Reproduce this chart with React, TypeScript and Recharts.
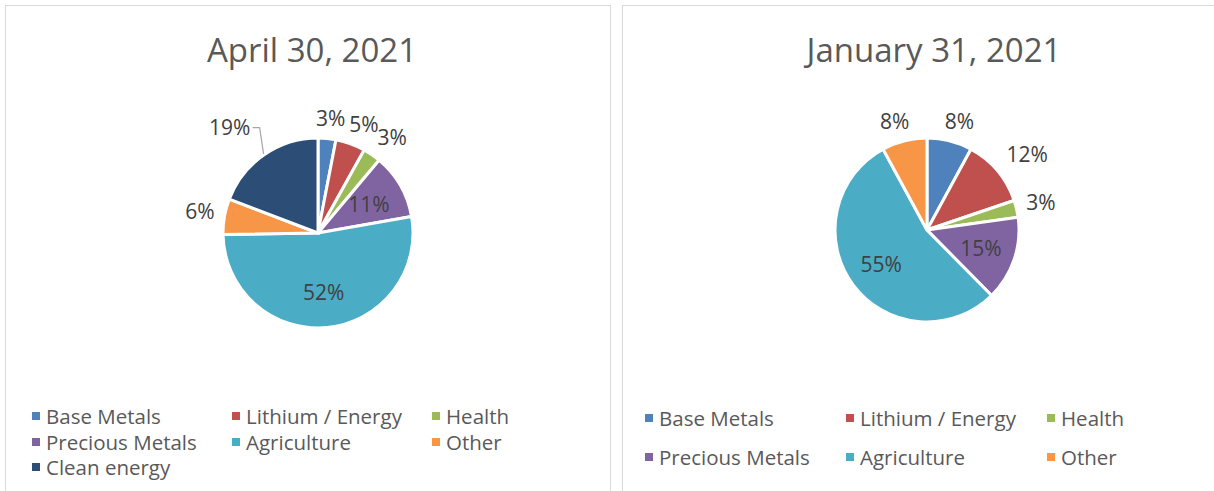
import { PieChart, Pie, Cell, Legend } from "recharts";

const CATEGORIES_APR = [
  "Base Metals", "Lithium / Energy", "Health", "Precious Metals", "Agriculture", "Other", "Clean energy",
];
const VALUES_APR = [3, 5, 3, 11, 52, 6, 19];

const CATEGORIES_JAN = [
  "Base Metals", "Lithium / Energy", "Health", "Precious Metals", "Agriculture", "Other",
];
const VALUES_JAN = [8, 12, 3, 15, 55, 8];

const COLORS: Record<string, string> = {
  "Base Metals": "#4F81BD",
  "Lithium / Energy": "#C0504D",
  Health: "#9BBB59",
  "Precious Metals": "#8064A2",
  Agriculture: "#4BACC6",
  Other: "#F79646",
  "Clean energy": "#2C4D75",
};

// which slices carry their label inside (Excel "best fit")
const INSIDE = ["Precious Metals", "Agriculture"];
const LEADER = ["Clean energy"];

const FONT = "'Open Sans', 'Noto Sans', sans-serif";
const RAD = Math.PI / 180;
const LABEL_SIZE = 21;

const clamp = (v: number) => Math.max(-1, Math.min(1, v));

function makeLabel(props: any) {
  const { cx, cy, midAngle, outerRadius, name, value } = props;
  const cos = Math.cos(-midAngle * RAD);
  const sin = Math.sin(-midAngle * RAD);
  const text = `${value}%`;
  const halfW = (text.length * 0.7 * LABEL_SIZE) / 2;
  const halfH = 10;
  const leader = LEADER.includes(name);
  let x: number;
  let y: number;
  if (INSIDE.includes(name)) {
    x = cx + outerRadius * 0.62 * cos;
    y = cy + outerRadius * 0.62 * sin;
  } else {
    // put the label box just off the rim, pushed away from the centre
    const r = outerRadius + 10 + (leader ? 12 : 0);
    x = cx + r * cos + halfW * clamp(2 * cos);
    y = cy + r * sin + halfH * clamp(2 * sin);
  }
  const side = cos < 0 ? 1 : -1;
  return (
    <g>
      {leader && (
        <polyline
          points={`${cx + (outerRadius + 1) * cos},${cy + (outerRadius + 1) * sin} ${x + side * (halfW + 8)},${y + 1} ${x + side * (halfW + 1)},${y + 1}`}
          fill="none" stroke="#A6A6A6" strokeWidth={1.2}
        />
      )}
      <text x={x} y={y} textAnchor="middle" dominantBaseline="central"
        fill="#404040" fontSize={LABEL_SIZE} fontFamily={FONT}>
        {text}
      </text>
    </g>
  );
}

function LegendGrid({ names, colStart, colGap, rowGap }: {
  names: string[]; colStart: number; colGap: number; rowGap: number;
}) {
  return (
    <div style={{ position: "relative", height: rowGap * Math.ceil(names.length / 3) }}>
      {names.map((n, i) => (
        <div key={n} style={{
          position: "absolute", left: colStart + (i % 3) * colGap, top: Math.floor(i / 3) * rowGap,
          display: "flex", alignItems: "center", fontFamily: FONT, fontSize: 20.5, color: "#595959",
          whiteSpace: "nowrap", lineHeight: "24px",
        }}>
          <span style={{ width: 8, height: 8, background: COLORS[n], marginRight: 6, display: "inline-block" }} />
          {n}
        </div>
      ))}
    </div>
  );
}

function Panel({ title, names, values, left, width, cx, cy, radius, legendTop, colStart, colGap, rowGap, titleShift }: any) {
  const data = names.map((n: string, i: number) => ({ name: n, value: values[i] }));
  return (
    <div style={{
      position: "absolute", left, top: 5, width, height: 500,
      border: "1px solid #D9D9D9", background: "#fff", boxSizing: "border-box",
    }}>
      <div style={{
        position: "absolute", left: titleShift, width: "100%", top: 24, textAlign: "center",
        fontFamily: FONT, fontSize: 33, color: "#595959", lineHeight: "40px",
      }}>{title}</div>
      <PieChart width={width - 2} height={486} margin={{ top: 0, right: 0, bottom: 0, left: 0 }}>
        <Pie data={data} dataKey="value" nameKey="name" cx={cx} cy={cy} outerRadius={radius}
          startAngle={90} endAngle={-270} stroke="#fff" strokeWidth={3}
          label={makeLabel} labelLine={false} isAnimationActive={false}>
          {data.map((d: any) => <Cell key={d.name} fill={COLORS[d.name]} />)}
        </Pie>
        <Legend
          wrapperStyle={{ position: "absolute", left: 0, top: legendTop, width: width - 2 }}
          content={() => <LegendGrid names={names} colStart={colStart} colGap={colGap} rowGap={rowGap} />}
        />
      </PieChart>
    </div>
  );
}

export default function App() {
  return (
    <div style={{ position: "absolute", left: 0, top: 0, width: 1214, height: 491, overflow: "hidden", background: "#fff" }}>
      <Panel title="April 30, 2021" names={CATEGORIES_APR} values={VALUES_APR}
        left={5} width={606} cx={312} cy={227} radius={95} titleShift={4}
        legendTop={398} colStart={26} colGap={200} rowGap={25.5} />
      <Panel title="January 31, 2021" names={CATEGORIES_JAN} values={VALUES_JAN}
        left={622} width={620} cx={304} cy={224} radius={92} titleShift={2}
        legendTop={400} colStart={22} colGap={201} rowGap={39} />
    </div>
  );
}
